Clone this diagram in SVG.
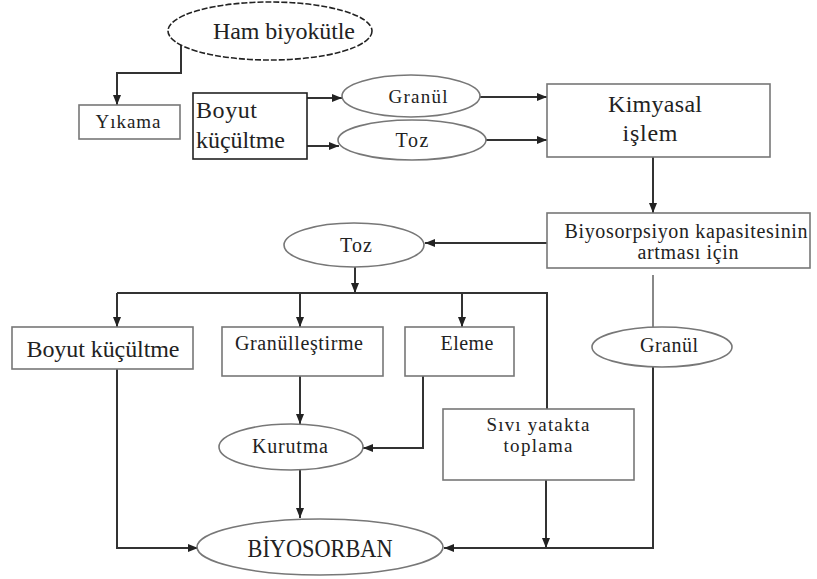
<svg xmlns="http://www.w3.org/2000/svg" width="817" height="579" viewBox="0 0 817 579">
<defs>
<marker id="ah" markerUnits="userSpaceOnUse" markerWidth="10" markerHeight="10" viewBox="0 0 10 10" refX="10" refY="5" orient="auto">
<path d="M0,1 L10,5 L0,9 Z" fill="#222"/>
</marker>
</defs>
<style>
.box{fill:#fff;stroke:#777;stroke-width:1.6}
.ell{fill:#fff;stroke:#777;stroke-width:1.6}
.dk{stroke:#222}
text{font-family:"Liberation Serif","Times New Roman",Times,"DejaVu Serif",serif;fill:#222;text-anchor:middle}
.c{fill:none;stroke:#333;stroke-width:2}
.ca{fill:none;stroke:#333;stroke-width:2;marker-end:url(#ah)}
.cg{fill:none;stroke:#888;stroke-width:2}
</style>
<rect width="817" height="579" fill="#fff"/>
<g id="connectors">
<path class="ca" d="M181,45 V73 H117 V105"/>
<path class="ca" d="M307,98 H342"/>
<path class="ca" d="M307,146 H339"/>
<path class="ca" d="M480,97 H547"/>
<path class="ca" d="M486,140 H547"/>
<path class="ca" d="M653,157 V213"/>
<path class="ca" d="M547,243 H425"/>
<path class="ca" d="M355,267 V293"/>
<path class="c" d="M117,293 H547 V409"/>
<path class="ca" d="M117,293 V327"/>
<path class="ca" d="M300,293 V327"/>
<path class="ca" d="M462,293 V327"/>
<path class="ca" d="M117,369 V548 H198"/>
<path class="ca" d="M300,376 V424"/>
<path class="ca" d="M423,376 V448 H363"/>
<path class="ca" d="M300,470 V518"/>
<path class="ca" d="M546,480 V548"/>
<path class="cg" d="M653,275 V327"/>
<path class="ca" d="M653,367 V548 H444"/>
</g>
<g id="ham">
<ellipse cx="270" cy="31" rx="102" ry="29" fill="#fff" stroke="#222" stroke-width="1.6" stroke-dasharray="6 2"/>
<text x="284" y="39" font-size="24" textLength="142">Ham biyokütle</text>
</g>
<g id="yikama">
<rect class="box" x="79" y="105" width="101" height="34"/>
<text x="128" y="128" font-size="19" textLength="65">Yıkama</text>
</g>
<g id="boyut1">
<rect class="box dk" x="193" y="93" width="114" height="66"/>
<text x="196" y="118" font-size="24" textLength="61" style="text-anchor:start">Boyut</text>
<text x="196" y="148" font-size="24" textLength="89" style="text-anchor:start">küçültme</text>
</g>
<g id="granul1">
<ellipse class="ell" cx="411" cy="96" rx="69" ry="21"/>
<text x="418" y="103" font-size="19" textLength="59">Granül</text>
</g>
<g id="toz1">
<ellipse class="ell" cx="412" cy="140" rx="74" ry="20"/>
<text x="412" y="147" font-size="20" textLength="33">Toz</text>
</g>
<g id="kimyasal">
<rect class="box" x="547" y="84" width="223" height="73"/>
<text x="655" y="112" font-size="24" textLength="94">Kimyasal</text>
<text x="650" y="141" font-size="24" textLength="55">işlem</text>
</g>
<g id="biyosorpsiyon">
<rect class="box" x="547" y="213" width="263" height="55"/>
<text x="686" y="238" font-size="20" textLength="243">Biyosorpsiyon kapasitesinin</text>
<text x="688" y="259" font-size="20" textLength="101">artması için</text>
</g>
<g id="toz2">
<ellipse class="ell" cx="354" cy="245" rx="70" ry="22"/>
<text x="356" y="252" font-size="20" textLength="32">Toz</text>
</g>
<g id="boyut2">
<rect class="box" x="12" y="327" width="181" height="42"/>
<text x="103" y="357" font-size="24" textLength="153">Boyut küçültme</text>
</g>
<g id="granulles">
<rect class="box" x="222" y="327" width="161" height="49"/>
<text x="299" y="350" font-size="20" textLength="128">Granülleştirme</text>
</g>
<g id="eleme">
<rect class="box" x="405" y="327" width="109" height="49"/>
<text x="467" y="350" font-size="20" textLength="53">Eleme</text>
</g>
<g id="granul2">
<ellipse class="ell" cx="662" cy="347" rx="70" ry="20"/>
<text x="669" y="352" font-size="20" textLength="58">Granül</text>
</g>
<g id="kurutma">
<ellipse class="ell" cx="291" cy="447" rx="72" ry="23"/>
<text x="290" y="453" font-size="20" textLength="76">Kurutma</text>
</g>
<g id="sivi">
<rect class="box" x="443" y="409" width="191" height="71"/>
<text x="538" y="431" font-size="19" textLength="103">Sıvı yatakta</text>
<text x="538" y="452" font-size="19" textLength="69">toplama</text>
</g>
<g id="biyosorban">
<ellipse class="ell" cx="320" cy="547" rx="123" ry="28"/>
<text x="320" y="557" font-size="26" textLength="145" lengthAdjust="spacingAndGlyphs">BİYOSORBAN</text>
</g>
</svg>
